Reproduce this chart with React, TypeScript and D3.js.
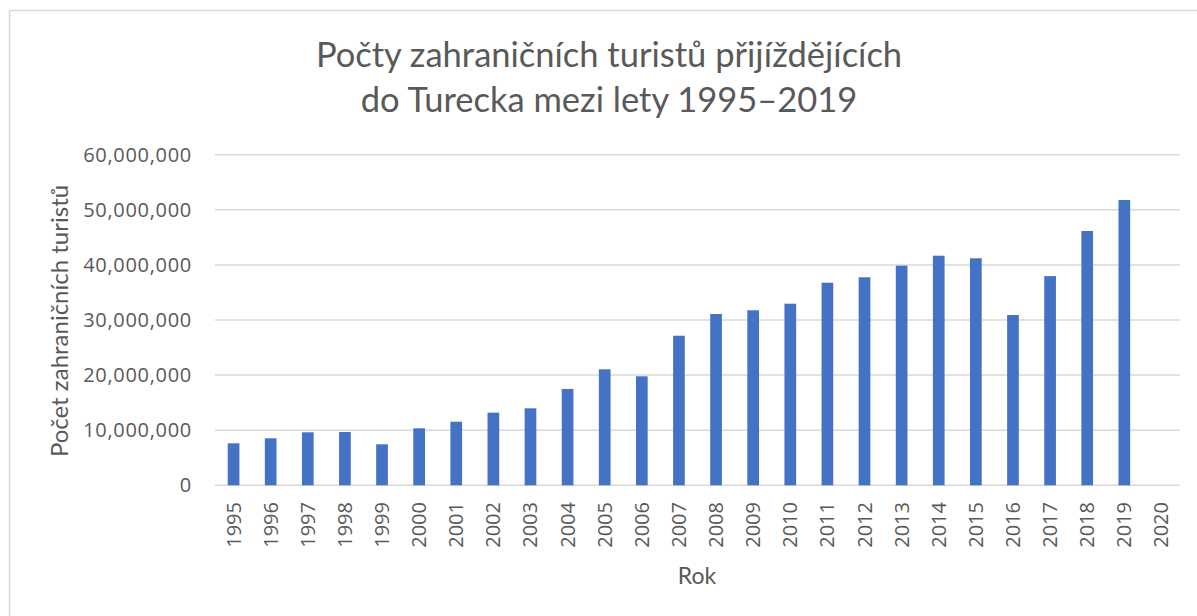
import React from "react";
import * as d3 from "d3";

const years = ["1995","1996","1997","1998","1999","2000","2001","2002","2003","2004","2005","2006","2007","2008","2009","2010","2011","2012","2013","2014","2015","2016","2017","2018","2019","2020"];
const tourists: (number | null)[] = [7620000,8530000,9620000,9670000,7440000,10340000,11540000,13180000,13970000,17480000,21050000,19780000,27150000,31090000,31760000,32960000,36770000,37750000,39860000,41670000,41200000,30900000,37970000,46150000,51780000,null];
const yTicks = [0,10000000,20000000,30000000,40000000,50000000,60000000];
const titleLines = ["Počty zahraničních turistů přijíždějících","do Turecka mezi lety 1995–2019"];
const yTitle = "Počet zahraničních turistů";
const xTitle = "Rok";

export default function App() {
  const W = 1197, H = 616;
  const left = 215, right = 1180, top = 154.7, bottom = 485.3;
  const x = d3.scaleBand<string>().domain(years).range([left, right]).paddingInner(0.685).paddingOuter(0.3425);
  const y = d3.scaleLinear().domain([0, 60000000]).range([bottom, top]);
  const fmt = d3.format(",");
  const textColor = "#595959";
  const titleFont = "Lato, 'Open Sans', sans-serif";
  const tickFont = "'Open Sans', 'Noto Sans', sans-serif";
  return (
    <svg width={W} height={H} style={{ position: "absolute", left: 0, top: 0, background: "#fff" }}>
      <rect x={0} y={0} width={W} height={H} fill="#fff" />
      <line x1={9.5} x2={9.5} y1={10.5} y2={H} stroke="#d9d9d9" strokeWidth={1.5} />
      <line x1={9.5} x2={W} y1={10.5} y2={10.5} stroke="#d9d9d9" strokeWidth={1.5} />
      {titleLines.map((t, i) => (
        <text key={i} x={609} y={67 + i * 45} textAnchor="middle" fontFamily={titleFont} fontSize={34.5} fill={textColor}>{t}</text>
      ))}
      {yTicks.map((t) => (
        <g key={t}>
          <line x1={left} x2={right} y1={y(t)} y2={y(t)} stroke="#d9d9d9" strokeWidth={1.5} />
          <text x={192} y={y(t)} dy="0.35em" textAnchor="end" fontFamily={tickFont} fontSize={20} fill={textColor} letterSpacing={0.7}>{fmt(t)}</text>
        </g>
      ))}
      {years.map((yr, i) => {
        const v = tourists[i];
        if (v == null) return null;
        return <rect key={yr} x={x(yr)!} y={y(v)} width={x.bandwidth()} height={y(0) - y(v)} fill="#4472C4" />;
      })}
      {years.map((yr) => {
        const cx = x(yr)! + x.bandwidth() / 2;
        return (
          <text key={yr} transform={`translate(${cx},502) rotate(-90)`} dy="0.35em" textAnchor="end" fontFamily={tickFont} fontSize={20} fill={textColor}>{yr}</text>
        );
      })}
      <text transform={`translate(68,321) rotate(-90)`} textAnchor="middle" fontFamily={titleFont} fontSize={24} fill={textColor}>{yTitle}</text>
      <text x={697} y={584} textAnchor="middle" fontFamily={titleFont} fontSize={23} fill={textColor}>{xTitle}</text>
    </svg>
  );
}
